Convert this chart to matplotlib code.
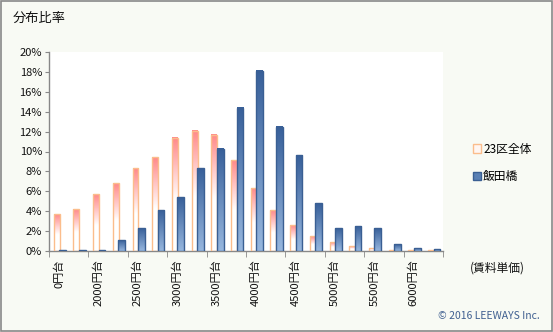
import matplotlib.pyplot as plt
import matplotlib.colors as mcolors
import numpy as np

plt.rcParams['font.family'] = ['Noto Sans CJK JP', 'DejaVu Sans']

# 賃料単価の区分 (250円刻み)
categories = ['0円台', '1750円台', '2000円台', '2250円台', '2500円台', '2750円台',
              '3000円台', '3250円台', '3500円台', '3750円台', '4000円台', '4250円台',
              '4500円台', '4750円台', '5000円台', '5250円台', '5500円台', '5750円台',
              '6000円台', '6250円台']

# 分布比率 (%)
ward23 = [3.7, 4.2, 5.7, 6.8, 8.3, 9.4, 11.4, 12.1, 11.7, 9.1,
          6.3, 4.1, 2.6, 1.5, 0.9, 0.5, 0.3, 0.1, 0.1, 0.1]
iidabashi = [0.1, 0.1, 0.1, 1.1, 2.3, 4.1, 5.4, 8.3, 10.3, 14.4,
             18.1, 12.5, 9.6, 4.8, 2.3, 2.5, 2.3, 0.7, 0.3, 0.2]

name_a = '23区全体'
name_b = '飯田橋'

bg = '#f8faf4'
fig = plt.figure(figsize=(5.53, 3.32), dpi=100, facecolor=bg)
ax = fig.add_axes([49 / 553, 1 - 251 / 332, 394 / 553, 199 / 332])
ax.set_facecolor('white')

x = np.arange(len(categories))

orange_cmap = mcolors.LinearSegmentedColormap.from_list(
    'o', [(0, 'white'), (0.45, 'white'), (1, '#ff8a8a')])
blue_cmap = mcolors.LinearSegmentedColormap.from_list(
    'b', [(0, '#96b6de'), (1, '#38609a')])
grad = np.linspace(0, 1, 64).reshape(-1, 1)

bars_a = ax.bar(x - 0.11, ward23, width=0.30, facecolor='none',
                edgecolor='#fbbd8c', linewidth=1.0, zorder=3, label=name_a)
bars_b = ax.bar(x + 0.19, iidabashi, width=0.34, facecolor='none',
                edgecolor='#3a5f93', linewidth=1.0, zorder=5, label=name_b)

# gradient fill inside each bar
for bars, cmap, z in [(bars_a, orange_cmap, 2), (bars_b, blue_cmap, 4)]:
    for p in bars:
        x0, w, h = p.get_x(), p.get_width(), p.get_height()
        ax.imshow(grad, cmap=cmap, origin='lower', aspect='auto',
                  extent=(x0, x0 + w, 0, h), zorder=z, interpolation='bilinear')

ax.set_xlim(-0.5, len(categories) - 0.5)
ax.set_ylim(0, 20)
ax.set_yticks(np.arange(0, 21, 2))
ax.set_yticklabels([f'{v}%' for v in range(0, 21, 2)])

ax.set_xticks(x[::2])
ax.set_xticklabels(categories[::2], rotation=90)
ax.set_xticks(np.arange(-0.5, len(categories), 2), minor=True)
ax.tick_params(axis='x', which='major', length=0, pad=6)
ax.tick_params(axis='x', which='minor', length=4, color='#888888', direction='out')
ax.tick_params(axis='y', length=3, color='#888888', pad=2)
ax.tick_params(labelsize=8, labelcolor='#111111')

for s in ['top', 'right']:
    ax.spines[s].set_visible(False)
for s in ['left', 'bottom']:
    ax.spines[s].set_color('#888888')
    ax.spines[s].set_linewidth(1.0)

# legend
leg_handles = [plt.Rectangle((0, 0), 1, 1, facecolor='#fff6f2', edgecolor='#fbbd8c'),
               plt.Rectangle((0, 0), 1, 1, facecolor='#5a80b4', edgecolor='#3a5f93')]
fig.legend(leg_handles, [name_a, name_b], loc='upper left',
           bbox_to_anchor=(462 / 553, 1 - 132 / 332), frameon=False,
           fontsize=8.5, handlelength=0.7, handleheight=0.7,
           handletextpad=0.2, labelspacing=1.2)

fig.text(13 / 553, 1 - 18 / 332, '分布比率', fontsize=9.5, va='center', ha='left',
         color='#111111')
fig.text(470 / 553, 1 - 268 / 332, '(賃料単価)', fontsize=8.5, va='center', ha='left',
         color='#111111')
fig.text(540 / 553, 1 - 316 / 332, '© 2016 LEEWAYS Inc.', fontsize=7.5,
         va='center', ha='right', color='#3f5f90')

# outer frame
fig.patches.append(plt.Rectangle((0.001, 0.002), 0.997, 0.996, transform=fig.transFigure,
                                 fill=False, edgecolor='#888888', linewidth=1.2))

fig.savefig('out.png', dpi=100, facecolor=bg)
